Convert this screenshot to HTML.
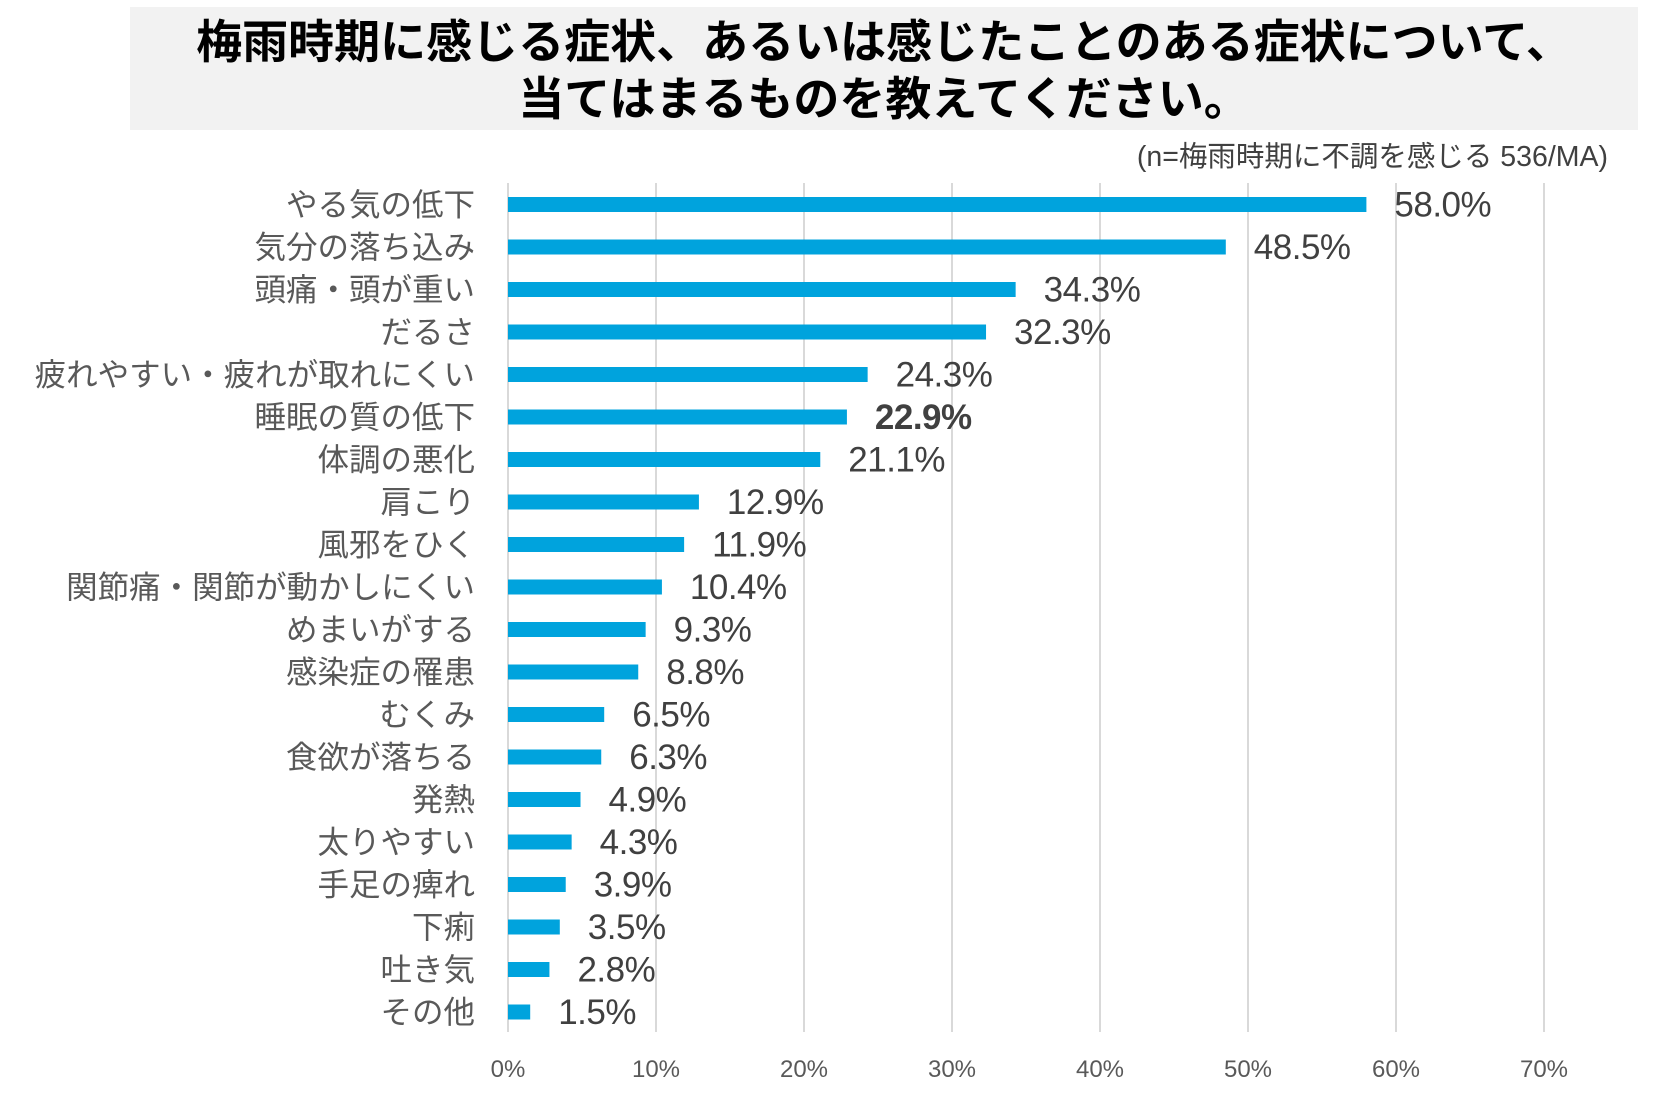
<!DOCTYPE html>
<html><head><meta charset="utf-8">
<style>
html,body{margin:0;padding:0;background:#fff;}
body{width:1657px;height:1114px;overflow:hidden;font-family:"Liberation Sans","Noto Sans CJK JP",sans-serif;}
</style></head>
<body>
<svg id="chart" width="1657" height="1114" viewBox="0 0 1657 1114" xmlns="http://www.w3.org/2000/svg">
<rect x="130" y="7" width="1508" height="123" fill="#f2f2f2"/>
<text x="884" y="58" text-anchor="middle" font-size="46" font-weight="bold" fill="#000" font-family="'Liberation Sans','Noto Sans CJK JP',sans-serif">梅雨時期に感じる症状、あるいは感じたことのある症状について、</text>
<text x="884" y="115" text-anchor="middle" font-size="46" font-weight="bold" fill="#000" font-family="'Liberation Sans','Noto Sans CJK JP',sans-serif">当てはまるものを教えてください。</text>
<text x="1608" y="166" text-anchor="end" font-size="28.5" fill="#404040" font-family="'Liberation Sans','Noto Sans CJK JP',sans-serif">(n=梅雨時期に不調を感じる 536/MA)</text>
<g id="grid"></g><g id="bars"></g><g id="labels"></g>
</svg>
<script>
const categories = ["やる気の低下","気分の落ち込み","頭痛・頭が重い","だるさ","疲れやすい・疲れが取れにくい","睡眠の質の低下","体調の悪化","肩こり","風邪をひく","関節痛・関節が動かしにくい","めまいがする","感染症の罹患","むくみ","食欲が落ちる","発熱","太りやすい","手足の痺れ","下痢","吐き気","その他"];
const values = [58.0,48.5,34.3,32.3,24.3,22.9,21.1,12.9,11.9,10.4,9.3,8.8,6.5,6.3,4.9,4.3,3.9,3.5,2.8,1.5];
const tickValues = [0,10,20,30,40,50,60,70];
const tickLabels = ["0%","10%","20%","30%","40%","50%","60%","70%"];
const boldIndex = 5;

const NS="http://www.w3.org/2000/svg";
const x0=508, pxPer=14.8, yTop=183, yBot=1032, firstY=204.5, step=42.5, barH=15;
const xs=v=>x0+v*pxPer;
const ys=i=>firstY+i*step;
function mk(t,attrs,parent){const e=document.createElementNS(NS,t);for(const k in attrs)e.setAttribute(k,attrs[k]);parent.appendChild(e);return e;}
const grid=document.getElementById('grid'),bars=document.getElementById('bars'),labels=document.getElementById('labels');
tickValues.forEach((v,i)=>{
  const l=mk('line',{x1:xs(v),x2:xs(v),y1:yTop,y2:yBot,stroke:'#d9d9d9','stroke-width':2},grid);
  
  
  const t=mk('text',{x:xs(v),y:1077,'text-anchor':'middle','font-size':24,fill:'#595959'},labels);
  t.textContent=tickLabels[i];
  
  
});
values.forEach((v,i)=>{
  const y=ys(i);
  const r=mk('rect',{x:x0,y:y-barH/2,width:xs(v)-x0,height:barH,fill:'#00a3dd'},bars);
  
  
  const c=mk('text',{x:475,y:y+11,'text-anchor':'end','font-size':31.5,fill:'#595959','font-family':"'Liberation Sans','Noto Sans CJK JP',sans-serif"},labels);
  c.textContent=categories[i];
  
  
  const vl=mk('text',{x:xs(v)+28,y:y+12,'font-size':35,fill:'#404040','letter-spacing':'-0.5','font-weight':i===boldIndex?'bold':'normal'},labels);
  vl.textContent=v.toFixed(1)+'%';
  
  
});
</script>
</body></html>
